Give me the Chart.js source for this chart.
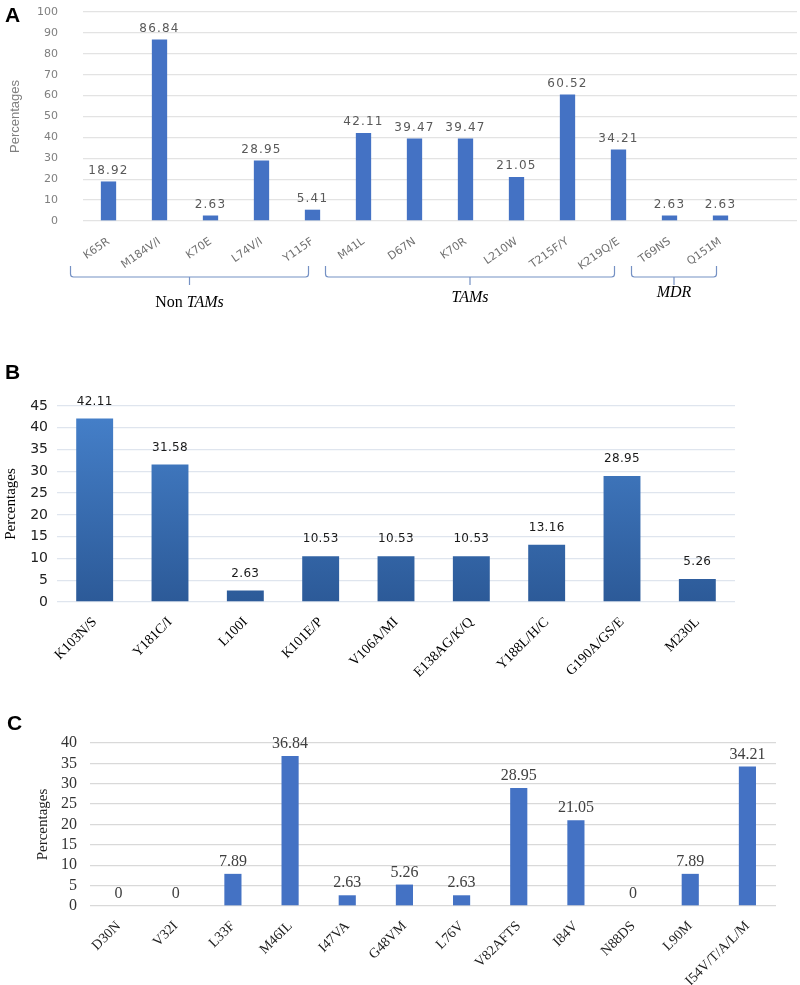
<!DOCTYPE html>
<html lang="en">
<head>
    <meta charset="UTF-8">
    <title>Mutation frequencies</title>
    <script src="https://cdn.jsdelivr.net/npm/chart.js"></script>
    <style>
        body {
            margin: 0;
            background: #ffffff;
            width: 800px;
            height: 985px;
            position: relative;
            overflow: hidden;
        }
        .painel {
            position: absolute;
            left: 0;
            width: 800px;
        }
        .letra {
            position: absolute;
            font-family: "Liberation Sans", Arial, sans-serif;
            font-weight: bold;
            font-size: 21px;
            color: #000;
        }
    </style>
</head>
<body>
    <div class="painel" style="top:0; height:320px;"><canvas id="graficoA"></canvas></div>
    <div class="painel" style="top:320px; height:370px;"><canvas id="graficoB"></canvas></div>
    <div class="painel" style="top:660px; height:325px;"><canvas id="graficoC"></canvas></div>
    <div class="letra" style="left:5px; top:3px;">A</div>
    <div class="letra" style="left:5px; top:360px;">B</div>
    <div class="letra" style="left:7px; top:711px;">C</div>

    <script>
        // A: NRTI mutations (last category left blank, as in the original axis)
        const mutacoesA = ['K65R', 'M184V/I', 'K70E', 'L74V/I', 'Y115F', 'M41L', 'D67N', 'K70R', 'L210W', 'T215F/Y', 'K219Q/E', 'T69NS', 'Q151M', ''];
        const valoresA = [18.92, 86.84, 2.63, 28.95, 5.41, 42.11, 39.47, 39.47, 21.05, 60.52, 34.21, 2.63, 2.63, null];
        const gruposA = [
            { normal: 'Non ', italico: 'TAMs', inicio: 0, fim: 4 },
            { normal: '', italico: 'TAMs', inicio: 5, fim: 10 },
            { normal: '', italico: 'MDR', inicio: 11, fim: 12 }
        ];

        // B: NNRTI mutations
        const mutacoesB = ['K103N/S', 'Y181C/I', 'L100I', 'K101E/P', 'V106A/MI', 'E138AG/K/Q', 'Y188L/H/C', 'G190A/GS/E', 'M230L'];
        const valoresB = [42.11, 31.58, 2.63, 10.53, 10.53, 10.53, 13.16, 28.95, 5.26];

        // C: PI mutations
        const mutacoesC = ['D30N', 'V32I', 'L33F', 'M46IL', 'I47VA', 'G48VM', 'L76V', 'V82AFTS', 'I84V', 'N88DS', 'L90M', 'I54V/T/A/L/M'];
        const valoresC = [0, 0, 7.89, 36.84, 2.63, 5.26, 2.63, 28.95, 21.05, 0, 7.89, 34.21];

        // rótulos de valor em cima das barras
        const rotulosPlugin = {
            id: 'rotulos',
            afterDatasetsDraw(chart, args, opts) {
                const ctx = chart.ctx;
                const meta = chart.getDatasetMeta(0);
                const dados = chart.data.datasets[0].data;
                ctx.save();
                ctx.font = opts.font;
                ctx.fillStyle = opts.color;
                ctx.textAlign = 'center';
                ctx.textBaseline = 'bottom';
                if (opts.espaco) ctx.letterSpacing = opts.espaco;
                meta.data.forEach((bar, i) => {
                    if (dados[i] === null) return;
                    ctx.fillText(String(dados[i]), bar.x, bar.y - opts.offset);
                });
                ctx.restore();
            }
        };

        // chaves com os grupos de mutações (painel A)
        const chavesPlugin = {
            id: 'chaves',
            afterDraw(chart, args, opts) {
                if (!opts.grupos) return;
                const ctx = chart.ctx;
                const x = chart.scales.x;
                const topo = chart.chartArea.bottom + 45;
                const base = topo + 11;
                ctx.save();
                ctx.strokeStyle = '#7591c4';
                ctx.lineWidth = 1.2;
                opts.grupos.forEach((g, k) => {
                    const esq = x.getPixelForValue(g.inicio) - 38;
                    const dir = x.getPixelForValue(g.fim) - 4;
                    const meio = (esq + dir) / 2;
                    ctx.beginPath();
                    ctx.moveTo(esq, topo);
                    ctx.lineTo(esq, base - 3);
                    ctx.quadraticCurveTo(esq, base, esq + 3, base);
                    ctx.lineTo(dir - 3, base);
                    ctx.quadraticCurveTo(dir, base, dir, base - 3);
                    ctx.lineTo(dir, topo);
                    ctx.moveTo(meio, base);
                    ctx.lineTo(meio, base + 8);
                    ctx.stroke();

                    const yt = base + 26 - k * 5;
                    ctx.fillStyle = '#000';
                    ctx.textBaseline = 'middle';
                    ctx.font = '16px "Liberation Serif", serif';
                    const w1 = ctx.measureText(g.normal).width;
                    ctx.font = 'italic 16px "Liberation Serif", serif';
                    const w2 = ctx.measureText(g.italico).width;
                    const xt = meio - (w1 + w2) / 2;
                    ctx.textAlign = 'left';
                    ctx.font = '16px "Liberation Serif", serif';
                    ctx.fillText(g.normal, xt, yt);
                    ctx.font = 'italic 16px "Liberation Serif", serif';
                    ctx.fillText(g.italico, xt + w1, yt);
                });
                ctx.restore();
            }
        };

        function criarGrafico(id, cfg) {
            const ctx = document.getElementById(id).getContext('2d');
            return new Chart(ctx, {
                type: 'bar',
                data: {
                    labels: cfg.labels,
                    datasets: [{
                        data: cfg.valores,
                        backgroundColor: cfg.cor,
                        borderWidth: 0,
                        barPercentage: cfg.largura,
                        categoryPercentage: 1
                    }]
                },
                plugins: [rotulosPlugin, chavesPlugin],
                options: {
                    responsive: true,
                    maintainAspectRatio: false,
                    animation: false,
                    layout: { padding: cfg.padding },
                    plugins: {
                        legend: { display: false },
                        tooltip: { enabled: false },
                        rotulos: cfg.rotulos,
                        chaves: { grupos: cfg.grupos }
                    },
                    scales: {
                        x: {
                            grid: { display: false },
                            border: { display: false },
                            ticks: {
                                color: cfg.corX,
                                font: cfg.fonteX,
                                minRotation: cfg.rotacao,
                                maxRotation: cfg.rotacao,
                                autoSkip: false,
                                padding: cfg.padX
                            },
                            afterFit(scale) { scale.height = cfg.alturaX; }
                        },
                        y: {
                            min: 0,
                            max: cfg.max,
                            grid: {
                                color: cfg.corGrade,
                                lineWidth: 1.3,
                                drawTicks: true,
                                tickLength: cfg.padY - 4,
                                tickColor: 'rgba(0,0,0,0)'
                            },
                            border: { display: false },
                            ticks: {
                                stepSize: cfg.passo,
                                autoSkip: false,
                                color: cfg.corY,
                                font: cfg.fonteY,
                                padding: 4
                            },
                            title: {
                                display: true,
                                text: 'Percentages',
                                color: cfg.corTitulo,
                                font: cfg.fonteTitulo,
                                padding: 0
                            },
                            afterFit(scale) { scale.width = cfg.larguraY; }
                        }
                    }
                }
            });
        }

        criarGrafico('graficoA', {
            labels: mutacoesA,
            valores: valoresA,
            grupos: gruposA,
            cor: '#4472c4',
            largura: 0.3,
            padding: { top: 12, left: 8, right: 3, bottom: 49 },
            alturaX: 50,
            larguraY: 75,
            max: 100,
            passo: 10,
            rotacao: 35,
            padX: 6,
            padY: 25,
            corX: '#707070',
            corY: '#7f7f7f',
            corGrade: '#e3e3e3',
            corTitulo: '#7f7f7f',
            fonteX: { family: 'DejaVu Sans', size: 11 },
            fonteY: { family: 'DejaVu Sans', size: 11 },
            fonteTitulo: { family: '"Liberation Sans Narrow", "Liberation Sans"', size: 13 },
            rotulos: { font: '12px "DejaVu Sans"', color: '#595959', offset: 5, espaco: '1.2px' }
        });

        criarGrafico('graficoB', {
            labels: mutacoesB,
            valores: valoresB,
            cor: ctx => {
                const area = ctx.chart.chartArea;
                if (!area) return '#3b6fb6';
                const g = ctx.chart.ctx.createLinearGradient(0, area.top, 0, area.bottom);
                g.addColorStop(0, '#4681cb');
                g.addColorStop(1, '#2c5a98');
                return g;
            },
            largura: 0.49,
            padding: { top: 86, left: 2, right: 65, bottom: 0 },
            alturaX: 88,
            larguraY: 55,
            max: 45,
            passo: 5,
            rotacao: 45,
            padX: 4,
            padY: 9,
            corX: '#000',
            corY: '#222',
            corGrade: '#dfe5ee',
            corTitulo: '#000',
            fonteX: { family: '"Liberation Serif", serif', size: 14 },
            fonteY: { family: 'DejaVu Sans', size: 14 },
            fonteTitulo: { family: '"Liberation Serif", serif', size: 15 },
            rotulos: { font: '12px "DejaVu Sans"', color: '#1a1a1a', offset: 11, espaco: '0.3px' }
        });

        criarGrafico('graficoC', {
            labels: mutacoesC,
            valores: valoresC,
            cor: '#4472c4',
            largura: 0.3,
            padding: { top: 83, left: 34, right: 24, bottom: 0 },
            alturaX: 79,
            larguraY: 56,
            max: 40,
            passo: 5,
            rotacao: 45,
            padX: 4,
            padY: 13,
            corX: '#222',
            corY: '#333',
            corGrade: '#d9d9d9',
            corTitulo: '#222',
            fonteX: { family: '"Liberation Serif", serif', size: 14 },
            fonteY: { family: '"Liberation Serif", serif', size: 16 },
            fonteTitulo: { family: '"Liberation Serif", serif', size: 15 },
            rotulos: { font: '16px "Liberation Serif", serif', color: '#404040', offset: 4 }
        });
    </script>
</body>
</html>
